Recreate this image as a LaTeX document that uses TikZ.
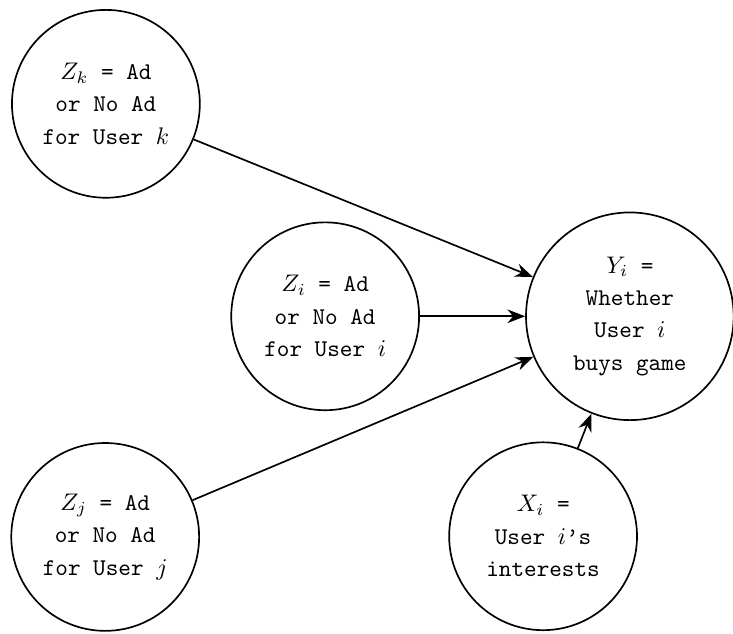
\documentclass[tikz,border=0pt]{standalone}
\usepackage{amsmath}
\usepackage{tikz}
\usetikzlibrary{positioning, arrows.meta, shapes.geometric}
\tikzset{
  var/.style={circle, draw=black, line width=0.7pt, minimum size=2.75cm, inner sep=0pt, align=center, font=\ttfamily, execute at begin node={\setlength{\baselineskip}{13.5pt}}},
  outcome/.style={var, minimum size=3.04cm},
  arrow/.style={line width=0.7pt,-{Stealth[length=2.6mm,width=2mm]}}
}

\begin{document}
\begin{tikzpicture}
    \useasboundingbox (0,0) rectangle (10.73,9.27);

    \node (zk) [var] at (1.55,7.75) {$Z_k$ = Ad\\ or No Ad\\ for User $k$};
    \node (zi) [var] at (4.76,4.64) {$Z_i$ = Ad\\ or No Ad\\ for User $i$};
    \node (zj) [var] at (1.54,1.41) {$Z_j$ = Ad\\ or No Ad\\ for User $j$};
    \node (yi) [outcome] at (9.22,4.64) {$Y_i$ =\\ Whether\\ User $i$\\ buys game};
    \node (xi) [var] at (7.95,1.42) {$X_i$ =\\ User $i$\textquoteright s\\ interests};

    % Flechas
    \draw [arrow] (zk) -- (yi);
    \draw [arrow] (zi) -- (yi);
    \draw [arrow] (zj) -- (yi);
    \draw [arrow] (xi) -- (yi);

\end{tikzpicture}
\end{document}
